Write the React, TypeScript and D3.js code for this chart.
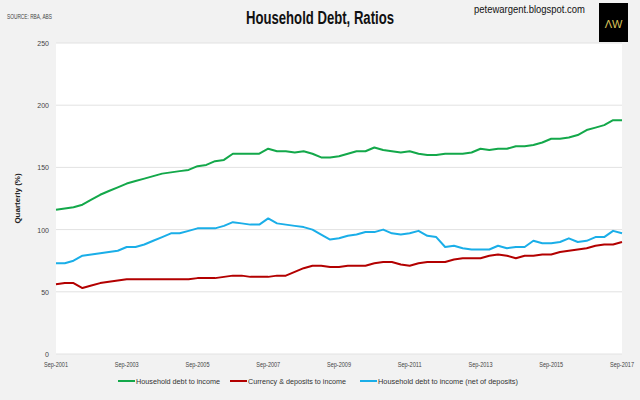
import { useMemo } from "react"
import * as d3 from "d3"

const quarters = d3.range(65).map((i) => new Date(2001, 8 + i * 3, 1))

const debtToIncome = [
  116, 117, 118, 120, 124, 128, 131, 134, 137, 139,
  141, 143, 145, 146, 147, 148, 151, 152, 155, 156,
  161, 161, 161, 161, 165, 163, 163, 162, 163, 161,
  158, 158, 159, 161, 163, 163, 166, 164, 163, 162,
  163, 161, 160, 160, 161, 161, 161, 162, 165, 164,
  165, 165, 167, 167, 168, 170, 173, 173, 174, 176,
  180, 182, 184, 188, 188,
]
const depositsToIncome = [
  56, 57, 57, 53, 55, 57, 58, 59, 60, 60,
  60, 60, 60, 60, 60, 60, 61, 61, 61, 62,
  63, 63, 62, 62, 62, 63, 63, 66, 69, 71,
  71, 70, 70, 71, 71, 71, 73, 74, 74, 72,
  71, 73, 74, 74, 74, 76, 77, 77, 77, 79,
  80, 79, 77, 79, 79, 80, 80, 82, 83, 84,
  85, 87, 88, 88, 90,
]
const netDebtToIncome = [
  73, 73, 75, 79, 80, 81, 82, 83, 86, 86,
  88, 91, 94, 97, 97, 99, 101, 101, 101, 103,
  106, 105, 104, 104, 109, 105, 104, 103, 102, 100,
  96, 92, 93, 95, 96, 98, 98, 100, 97, 96,
  97, 99, 95, 94, 86, 87, 85, 84, 84, 84,
  87, 85, 86, 86, 91, 89, 89, 90, 93, 90,
  91, 94, 94, 99, 97,
]

const series = [
  { name: "Household debt to income", color: "#13a84a", values: debtToIncome },
  { name: "Currency & deposits to income", color: "#b30000", values: depositsToIncome },
  { name: "Household debt to income (net of deposits)", color: "#1aaee8", values: netDebtToIncome },
]
const yTicks = [0, 50, 100, 150, 200, 250]
const xTickLabels = ["Sep-2001", "Sep-2003", "Sep-2005", "Sep-2007", "Sep-2009", "Sep-2011", "Sep-2013", "Sep-2015", "Sep-2017"]

const font = "'Liberation Sans', Arial, sans-serif"

export default function App() {
  const width = 640
  const height = 400
  const margin = { top: 43, right: 18, bottom: 46, left: 56 }

  const x = useMemo(
    () => d3.scaleTime().domain([quarters[0], quarters[64]]).range([margin.left, width - margin.right]),
    []
  )
  const y = useMemo(
    () => d3.scaleLinear().domain([0, 250]).range([height - margin.bottom, margin.top]),
    []
  )
  const line = d3
    .line<number>()
    .x((_, i) => x(quarters[i]))
    .y((d) => y(d))

  // legend swatch x and text widths (narrow font look)
  const legendX = [118, 230, 360]
  const legendW = [84, 98, 140]

  return (
    <svg width={width} height={height} style={{ position: "absolute", left: 0, top: 0, fontFamily: font }}>
      <rect width={width} height={height} fill="#f2f2f2" />
      <rect
        x={margin.left}
        y={margin.top}
        width={width - margin.left - margin.right}
        height={height - margin.bottom - margin.top}
        fill="#fff"
      />
      {yTicks.map((t) => (
        <g key={t}>
          <line x1={margin.left} x2={width - margin.right} y1={y(t)} y2={y(t)} stroke="#e2e2e2" strokeWidth={1} />
          <text x={margin.left - 7} y={y(t) + 3} textAnchor="end" fontSize={7} fill="#444">
            {t}
          </text>
        </g>
      ))}
      {xTickLabels.map((lab, i) => (
        <text key={lab} x={x(quarters[i * 8])} y={height - margin.bottom + 13} textAnchor="middle" fontSize={7} fill="#444" textLength={24} lengthAdjust="spacingAndGlyphs">
          {lab}
        </text>
      ))}
      {series.map((s) => (
        <path key={s.name} d={line(s.values) ?? ""} fill="none" stroke={s.color} strokeWidth={2} strokeLinejoin="round" />
      ))}
      <text x={7} y={19} fontSize={7} fill="#444" textLength={45} lengthAdjust="spacingAndGlyphs">SOURCE: RBA, ABS</text>
      <text x={246} y={24} fontSize={18} fontWeight="bold" fill="#111" textLength={148} lengthAdjust="spacingAndGlyphs">
        Household Debt, Ratios
      </text>
      <text x={585} y={13} textAnchor="end" fontSize={10} fill="#111" textLength={111} lengthAdjust="spacingAndGlyphs">petewargent.blogspot.com</text>
      <rect x={599} y={3} width={29} height={39} fill="#000" />
      <text x={613.5} y={28} textAnchor="middle" fontSize={11} fill="#d9c35a">ΛW</text>
      <text
        transform={`translate(20, ${(margin.top + height - margin.bottom) / 2}) rotate(-90)`}
        textAnchor="middle"
        fontSize={8}
        fontWeight="bold"
        fill="#222"
      >
        Quarterly (%)
      </text>
      {series.map((s, i) => (
        <g key={s.name}>
          <line x1={legendX[i]} x2={legendX[i] + 17} y1={381} y2={381} stroke={s.color} strokeWidth={2} />
          <text x={legendX[i] + 18} y={384} fontSize={7.5} fill="#333" textLength={legendW[i]} lengthAdjust="spacingAndGlyphs">
            {s.name}
          </text>
        </g>
      ))}
    </svg>
  )
}
